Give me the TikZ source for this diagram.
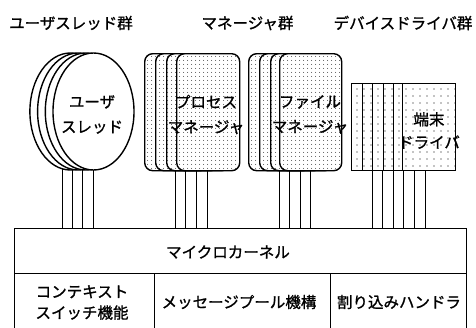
\documentclass[tikz,border=0pt]{standalone}
\usepackage{fontspec}
\newfontfamily\jp[FakeBold=1.2]{Noto Sans CJK JP}
\usetikzlibrary{shapes.geometric,patterns.meta}
\pgfdeclarelayer{bg}
\pgfsetlayers{bg,main}
\begin{document}
\begin{tikzpicture}[x=1pt,y=-1pt,line width=1.4pt,
  lbl/.style={font=\jp\fontsize{15.5}{25}\selectfont,align=center,inner sep=0pt},
  lblk/.style={font=\jp\fontsize{15.5}{21}\selectfont,align=center,inner sep=0pt},
  thr/.style={ellipse,draw,fill=white,minimum width=81pt,minimum height=117pt,inner sep=0pt},
  mgr/.style={rectangle,rounded corners=8pt,draw,preaction={fill=white},
    pattern={Dots[distance=4pt,radius=0.55pt]},minimum width=63pt,minimum height=117pt,
    inner sep=0pt,anchor=north west},
  drv/.style={rectangle,draw,preaction={fill=white},
    pattern={Dots[distance=7pt,radius=0.65pt]},minimum width=53pt,minimum height=87pt,
    inner sep=0pt,anchor=north west},
  cell/.style={rectangle,draw,anchor=north west,inner sep=0pt,minimum height=70pt}]
\useasboundingbox (0,0) rectangle (476,327);
\clip (0,0) rectangle (476,327);
% titles
\node[lbl] (t1) at (71,23) {ユーザスレッド群};
\node[lbl] (t2) at (247.5,23) {マネージャ群};
\node[lbl] (t3) at (403,23) {デバイスドライバ群};
% kernel
\node[rectangle,draw,anchor=north west,inner sep=0pt,minimum width=452pt,minimum height=45pt] (kern) at (14,228) {};
\node[cell,minimum width=140pt] (c1) at (14,273) {};
\node[cell,minimum width=176pt] (c2) at (154,273) {};
\node[cell,minimum width=136pt] (c3) at (330,273) {};
\node[lbl] (kt) at (228,252) {マイクロカーネル};
\node[lblk] (c1t) at (82,302.5) {コンテキスト\\スイッチ機能};
\node[lbl] (c2t) at (239,302) {メッセージプール機構};
\node[lbl] (c3t) at (399,302) {割り込みハンドラ};
% user threads
\node[thr] (u1) at (70.4,111.5) {};
\node[thr] (u2) at (78.1,111.5) {};
\node[thr] (u3) at (85.8,111.5) {};
\node[thr] (u4) at (93.5,111.5) {};
\node[lbl] (ut) at (92,114.5) {ユーザ\\スレッド};
% process managers
\node[mgr] (p1) at (144,53) {};
\node[mgr] (p2) at (155,53) {};
\node[mgr] (p3) at (166,53) {};
\node[mgr] (p4) at (176,53) {};
\node[lbl] (pt) at (206,114.5) {プロセス\\マネージャ};
% file managers
\node[mgr,minimum width=62pt] (f1) at (248,53) {};
\node[mgr,minimum width=62pt] (f2) at (259,53) {};
\node[mgr,minimum width=62pt] (f3) at (270,53) {};
\node[mgr,minimum width=62pt] (f4) at (279,53) {};
\node[lbl] (ft) at (310,114.5) {ファイル\\マネージャ};
% device drivers
\node[drv] (d1) at (351,83) {};
\node[drv] (d2) at (362,83) {};
\node[drv] (d3) at (372,83) {};
\node[drv] (d4) at (383,83) {};
\node[drv] (d5) at (393,83) {};
\node[drv] (d6) at (402,83) {};
\node[lbl,font=\jp\fontsize{15.5}{23}\selectfont] (dt) at (429,130.5) {端末\\ドライバ};
% stems
\begin{pgfonlayer}{bg}
\foreach \x in {62,72,82,93} \draw (\x,0 |- u4.center) -- (\x,0 |- kern.north);
\end{pgfonlayer}
\foreach \x in {175,185,196,207} \draw (\x,0 |- p4.south) -- (\x,0 |- kern.north);
\foreach \x in {279,289,300,310} \draw (\x,0 |- f4.south) -- (\x,0 |- kern.north);
\foreach \x in {372,382,393,403,414,425} \draw (\x,0 |- d6.south) -- (\x,0 |- kern.north);
\end{tikzpicture}
\end{document}
